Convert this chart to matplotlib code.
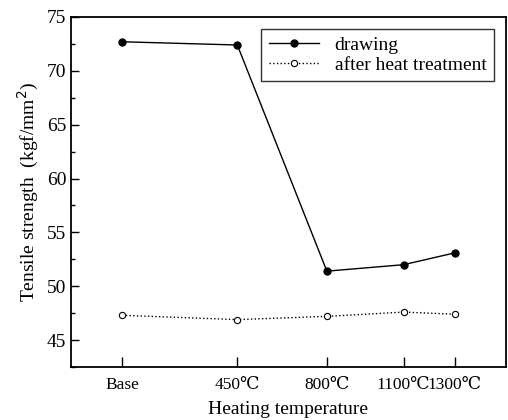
import matplotlib
matplotlib.use('Agg')
import matplotlib.pyplot as plt
from matplotlib.ticker import MultipleLocator

plt.rcParams['font.family'] = ['Liberation Serif', 'DejaVu Serif']

# heating temperature (Base treated as 0)
temps = [0, 450, 800, 1100, 1300]
tick_labels = ['Base', '450℃', '800℃', '1100℃', '1300℃']
drawing = [72.7, 72.4, 51.4, 52.0, 53.1]
after_heat = [47.3, 46.9, 47.2, 47.6, 47.4]

fig = plt.figure(figsize=(5.08, 4.2), dpi=100)
ax = fig.add_axes([71/508, 1 - 367/420, 435/508, 350/420])

ax.plot(temps, drawing, '-o', color='black', lw=1.0, ms=5,
        label='drawing')
ax.plot(temps, after_heat, ':o', color='black', lw=1.0, ms=4.5,
        mfc='white', mew=0.8, label='after heat treatment')

ax.set_xlim(-200, 1500)
ax.set_ylim(42.5, 75)
ax.set_xticks(temps)
ax.set_xticklabels(tick_labels, fontsize=12.5)
ax.yaxis.set_major_locator(MultipleLocator(5))
ax.yaxis.set_minor_locator(MultipleLocator(2.5))
ax.tick_params(axis='y', direction='in', length=6, width=1, labelsize=14)
ax.tick_params(axis='y', which='minor', direction='in', length=3, width=1)
ax.tick_params(axis='x', direction='in', length=7, width=1, pad=7)

for s in ax.spines.values():
    s.set_linewidth(1.3)

ax.set_xlabel('Heating temperature', fontsize=14, labelpad=6)
ax.set_ylabel('Tensile strength  (kgf/mm$^2$)', fontsize=14)

leg = ax.legend(loc='upper right', fontsize=14, frameon=True, fancybox=False,
                edgecolor='black', borderaxespad=0.6, handlelength=2.6,
                labelspacing=0.1, borderpad=0.4)
leg.get_frame().set_linewidth(1.0)

fig.savefig('out.png', dpi=100)
